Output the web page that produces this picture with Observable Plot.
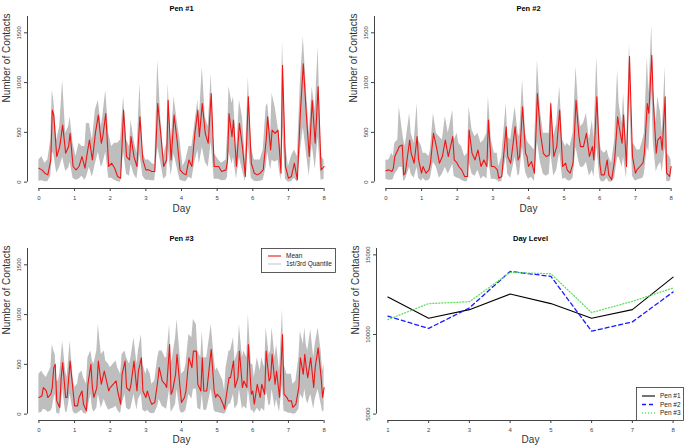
<!DOCTYPE html>
<html><head><meta charset="utf-8">
<script src="https://cdn.jsdelivr.net/npm/d3@7"></script>
<script src="https://cdn.jsdelivr.net/npm/@observablehq/plot@0.6"></script>
<style>
body{margin:0;background:#fff;}
#wrap{position:relative;width:685px;height:448px;overflow:hidden;background:#fff;font-family:"Liberation Sans",Arial,sans-serif;}
#wrap svg{position:absolute;}
</style></head>
<body><div id="wrap"></div>
<script>
// ---------- data ----------
const xTicksTS = [0,1,2,3,4,5,6,7,8];
const yTicksTS = [0,500,1000,1500];
const dayTicks = [1,2,3,4,5,6,7,8];
const yTicksDay = [5000,10000,15000];
const panelTitles = ["Pen #1","Pen #2","Pen #3","Day Level"];
const legendTS = ["Mean","1st/3rd Quantile"];
const legendDay = ["Pen #1","Pen #2","Pen #3"];

const pen1Hours = [0,2,4,6,8,9,10,12,14,16,18,20,21,23, 25,27,29,31,32,34,36,38,40,42,43,45,47, 49,51,53,55,57,59,61,62,64,66,68,70,72, 74,76,78,80,82,84,86,87,89,91,93,95, 97,99,101,103,105,107,108,110,112,114,116,118, 121,123,126,127,128,130,131,133,135,137,139,141,143, 145,147,149,151,153,154,156,157,159,161,163,164,166, 168,170,172,174,176,178,180,182,184,186,188,190,192];
const pen1Mean = [140,123,90,73,223,723,673,257,357,573,290,357,490,157, 123,157,257,140,240,423,223,490,673,390,457,690,157, 190,140,57,40,723,257,223,457,257,157,657,223,123, 123,107,107,790,490,157,223,823,223,673,423,123, 90,73,223,157,490,723,457,790,490,390,890,157, 157,107,123,223,690,457,623,157,590,357,57,857,190, 90,73,90,123,423,657,323,523,490,523,90,1173,157, 40,57,190,23,690,1190,690,257,823,390,957,123,157];
const pen1Hi = [223,257,190,223,423,923,823,423,557,1023,490,557,657,390, 257,390,357,357,590,590,423,723,823,557,657,923,490, 357,390,390,423,857,423,357,623,423,290,990,290,223, 223,190,173,1223,657,257,390,990,390,857,623,423, 157,223,357,357,590,823,623,1157,657,557,1090,290, 223,190,223,490,957,790,857,290,823,657,223,1057,357, 223,223,223,323,757,790,490,890,757,557,323,1423,390, 157,257,323,257,990,1457,957,490,957,723,1357,257,223];
const pen1Lo = [10,15,5,5,60,300,280,90,150,250,110,140,200,40, 20,30,60,20,50,150,50,180,300,150,180,300,40, 40,20,5,0,300,80,60,180,80,30,280,60,20, 20,15,15,350,200,30,60,350,60,280,150,20, 10,5,50,30,200,320,180,350,200,150,400,30, 30,15,20,50,300,180,250,30,250,120,5,380,40, 10,5,10,20,150,300,120,220,200,220,10,550,30, 0,5,40,0,300,550,300,60,380,130,450,20,30];

const pen2Hours = [0,2,4,5,6,8,9,11,12,13,16,17,19,21,22,24, 25,27,29,30,32,34,36,38,40,42,45,46,48, 49,51,53,55,56,58,60,62,64,66,68,69,71, 73,75,76,78,81,82,84,87,89,90,92,94,95, 96,98,100,102,104,106,108,110,111,113,115,117,119, 121,122,124,126,128,130,131,133,135,137,139,140,142, 144,145,147,149,150,152,154,156,157,159,160,162,164,166,168, 169,171,173,174,176,177,179,180,182,183,185,186,188,189,191,192];
const pen2Mean = [115,123,107,140,257,323,357,373,73,90,423,290,190,457,223,90, 157,90,123,190,490,357,190,257,423,257,457,223,190, 157,123,57,57,523,290,223,323,157,223,157,623,157, 157,123,40,57,557,257,190,557,223,257,757,290,257, 157,207,90,890,490,290,257,273,790,257,357,723,157, 190,123,90,190,823,457,357,357,490,257,357,223,857, 190,73,73,223,73,23,223,657,557,390,673,157,1263,257,90, 123,157,190,290,790,690,1273,823,290,423,457,323,857,90,57,157];
const pen2Hi = [220,223,290,257,390,423,757,523,423,357,690,490,390,790,423,357, 290,290,257,323,690,490,457,423,657,490,723,423,490, 390,357,257,290,757,523,457,490,390,423,490,857,423, 290,290,157,257,790,457,423,757,490,457,1023,490,423, 390,357,323,1223,723,490,490,490,823,457,590,957,423, 357,390,357,490,1157,690,557,590,690,423,623,423,1257, 423,323,290,323,257,190,423,1123,790,590,890,357,1390,390,357, 323,323,423,490,1257,890,1573,957,590,857,690,490,1157,290,257,223];
const pen2Lo = [30,20,20,30,80,120,150,150,10,20,150,80,40,150,40,10, 40,10,20,40,200,150,40,80,150,80,180,60,40, 40,20,5,5,200,80,60,120,30,60,30,250,30, 30,20,0,5,250,80,40,250,60,80,350,100,60, 30,50,10,400,200,80,60,80,300,60,120,300,30, 40,20,10,40,350,200,150,150,200,60,120,50,350, 40,5,5,40,5,0,40,250,250,150,250,30,900,60,10, 20,30,40,80,350,300,900,400,100,150,200,100,350,10,5,30];

const pen3Hours = [0,2,3,5,6,8,9,10,11,12,13,14,15,16,18,19,21,23, 24,26,27,29,30,32,33,35,36,37,39,40,42,44,45,47, 48,50,52,53,55,56,58,59,61,62,64,66,67,69,70, 72,73,75,76,78,80,81,83,85,86,88,89,90,92,93,95, 96,98,99,101,103,104,106,107,109,110,111,113,116,118,119, 120,122,124,125,126,128,129,131,132,134,135,137,138,140,141,143, 144,145,147,149,150,152,153,155,156,157,159,160,162,164,165,167, 168,170,171,173,175,176,178,179,180,181,183,185,186,188,190,191,192];
const pen3Mean = [167,183,267,233,167,200,267,467,500,133,100,67,367,517,167,167,533,233, 83,83,167,233,100,33,300,500,267,167,267,533,300,433,367,233, 267,300,333,233,100,400,533,267,233,300,533,233,433,567,233, 167,233,133,100,117,333,467,333,300,267,700,200,233,400,600,267, 117,167,233,567,467,633,633,300,233,567,233,233,650,233,167, 200,167,100,50,167,367,367,533,267,367,633,267,333,267,700,200, 233,100,300,167,300,200,633,333,367,600,300,433,167,800,200,167, 133,133,67,100,267,567,400,600,467,367,567,267,467,667,367,167,267];
const pen3Hi = [400,433,400,367,400,467,700,633,600,333,333,400,567,733,433,367,733,367, 267,300,400,433,367,300,567,633,533,500,633,900,600,633,533,500, 467,500,533,467,400,600,633,567,500,567,767,500,633,800,500, 400,467,400,300,333,567,633,633,567,567,900,500,567,767,950,600, 400,433,500,800,767,950,900,633,567,833,567,567,900,567,433, 467,400,333,233,467,633,633,767,533,633,900,567,633,567,1000,500, 500,367,567,433,567,467,867,600,633,867,567,700,433,1050,500,400, 400,400,300,333,567,833,700,867,700,633,850,567,700,867,633,433,500];
const pen3Lo = [10,20,50,40,20,30,60,150,200,10,5,0,100,250,20,20,200,30, 5,5,20,40,10,0,60,200,60,20,60,200,60,150,100,40, 50,60,80,40,5,100,200,60,40,60,200,40,150,200,40, 20,40,10,5,10,80,150,80,60,50,250,20,40,100,250,40, 10,20,40,200,150,250,250,60,40,200,40,40,250,40,20, 20,10,5,0,20,100,100,200,50,100,250,50,80,50,250,30, 40,5,60,20,60,30,250,80,100,250,60,150,20,300,30,20, 10,10,0,5,50,200,150,250,150,100,200,50,150,250,100,20,40];

const dayLevelDays = [1,2,3,4,5,6,7,8];
const pen1Daily = [12350,11020,11560,12540,11940,11020,11560,13600];
const pen2Daily = [11150,10380,11670,13960,13650,10210,10790,12670];
const pen3Daily = [10940,11940,12060,13900,13810,11380,12080,12920];

// ---------- drawing ----------
const FONT = '"Liberation Sans", Arial, Helvetica, sans-serif';
const AX = "#444";
const LBL = "#444";
const wrap = document.getElementById("wrap");

function place(svg, left, top){
  svg.style.left = left + "px"; svg.style.top = top + "px";
  wrap.appendChild(svg);
}

function commonMarks(xDom, yDom, xTicks, yTicks, title, row){
  const tdy = row === 0 ? -11 : -13;
  const ddy = row === 0 ? 23 : 22;
  return [
    Plot.ruleY([yDom[0]], {x1: xTicks[0], x2: xTicks[xTicks.length-1], stroke: AX, strokeWidth: 1}),
    Plot.ruleX([xDom[0]], {y1: yTicks[0], y2: yDom[1], stroke: AX, strokeWidth: 1}),
    Plot.axisX({ticks: xTicks, tickSize: 3, tickFormat: () => "", label: null, stroke: AX}),
    Plot.axisY({ticks: yTicks, tickSize: 3, tickFormat: () => "", label: null, stroke: AX}),
    Plot.text(xTicks, {x: d => d, y: yDom[0], text: d => String(d), dy: 10, fontSize: 6, fill: LBL}),
    Plot.text(yTicks, {x: xDom[0], y: d => d, text: d => String(d), rotate: -90, dx: -8, fontSize: 6, fill: LBL}),
    Plot.text([title], {frameAnchor: "top", dy: tdy, fontWeight: "bold", fontSize: 7.5, fill: "#000"}),
    Plot.text(["Day"], {frameAnchor: "bottom", dy: ddy, fontSize: 10, fill: "#333"}),
    Plot.text(["Number of Contacts"], {frameAnchor: "left", dx: -21, rotate: -90, fontSize: 10, fill: "#333"})
  ];
}

function tsPanel(title, hours, mean, lo, hi, left, top, width, ml, row){
  const idx = d3.range(hours.length);
  const X = i => hours[i] / 24;
  const xDom = [-0.32, 8.32], yDom = [-64, 1664];
  const plot = Plot.plot({
    width, height: 224,
    marginLeft: ml, marginRight: width - ml - 308,
    marginTop: row === 0 ? 16 : 24, marginBottom: row === 0 ? 36 : 28,
    x: {domain: xDom, axis: null}, y: {domain: yDom, axis: null},
    style: {fontFamily: FONT, background: "transparent", overflow: "visible"},
    marks: [
      Plot.areaY(idx, {x: X, y1: i => lo[i], y2: i => hi[i], fill: "#bebebe"}),
      Plot.lineY(idx, {x: X, y: i => mean[i], stroke: "#f01414", strokeWidth: 1.1}),
      ...commonMarks(xDom, yDom, xTicksTS, yTicksTS, title, row)
    ]
  });
  place(plot, left, top);
  return plot;
}

tsPanel(panelTitles[0], pen1Hours, pen1Mean, pen1Lo, pen1Hi, 0, 0, 342, 27, 0);
tsPanel(panelTitles[1], pen2Hours, pen2Mean, pen2Lo, pen2Hi, 347, 0, 338, 27, 0);
const p3 = tsPanel(panelTitles[2], pen3Hours, pen3Mean, pen3Lo, pen3Hi, 0, 224, 342, 27, 1);

// legend for panel 3
{
  const g = d3.select(p3).append("g").attr("font-family", FONT).attr("font-size", 6.5).attr("text-anchor", "start");
  g.append("rect").attr("x", 261.5).attr("y", 24.5).attr("width", 74).attr("height", 24)
    .attr("fill", "white").attr("stroke", "#333").attr("stroke-width", 0.8);
  const cols = ["#f01414", "#c9c9c9"];
  legendTS.forEach((t, i) => {
    const y = 32 + i * 8;
    g.append("line").attr("x1", 268).attr("x2", 281).attr("y1", y).attr("y2", y)
      .attr("stroke", cols[i]).attr("stroke-width", 1.1);
    g.append("text").attr("x", 286).attr("y", y).attr("dy", "0.35em").attr("fill", "#222").text(t);
  });
}

// Day level panel
{
  const xDom = [0.72, 8.28], yDom = [4600, 15400];
  const rows = [];
  dayLevelDays.forEach((d, i) => {
    rows.push({day: d, v: pen1Daily[i], pen: "Pen #1"});
    rows.push({day: d, v: pen2Daily[i], pen: "Pen #2"});
    rows.push({day: d, v: pen3Daily[i], pen: "Pen #3"});
  });
  const width = 338, ml = 29;
  const plot = Plot.plot({
    width, height: 224,
    marginLeft: ml, marginRight: width - ml - 308, marginTop: 24, marginBottom: 28,
    x: {domain: xDom, axis: null}, y: {domain: yDom, axis: null},
    style: {fontFamily: FONT, background: "transparent", overflow: "visible"},
    marks: [
      Plot.lineY(rows.filter(r => r.pen === "Pen #1"), {x: "day", y: "v", stroke: "#000", strokeWidth: 1.1}),
      Plot.lineY(rows.filter(r => r.pen === "Pen #2"), {x: "day", y: "v", stroke: "#1a1aff", strokeWidth: 1.3, strokeDasharray: "4,3"}),
      Plot.lineY(rows.filter(r => r.pen === "Pen #3"), {x: "day", y: "v", stroke: "#5ee05e", strokeWidth: 1.3, strokeDasharray: "1,2"}),
      ...commonMarks(xDom, yDom, dayTicks, yTicksDay, panelTitles[3], 1)
    ]
  });
  place(plot, 347, 224);
  const g = d3.select(plot).append("g").attr("font-family", FONT).attr("font-size", 6.5).attr("text-anchor", "start");
  g.append("rect").attr("x", 289.5).attr("y", 163.5).attr("width", 47).attr("height", 33)
    .attr("fill", "white").attr("stroke", "#333").attr("stroke-width", 0.8);
  const st = [["#000", null, 1.1], ["#1a1aff", "4,3", 1.3], ["#5ee05e", "1,2", 1.3]];
  legendDay.forEach((t, i) => {
    const y = 172 + i * 8.5;
    g.append("line").attr("x1", 295).attr("x2", 308).attr("y1", y).attr("y2", y)
      .attr("stroke", st[i][0]).attr("stroke-width", st[i][2]).attr("stroke-dasharray", st[i][1]);
    g.append("text").attr("x", 313).attr("y", y).attr("dy", "0.35em").attr("fill", "#222").text(t);
  });
}
</script></body></html>
